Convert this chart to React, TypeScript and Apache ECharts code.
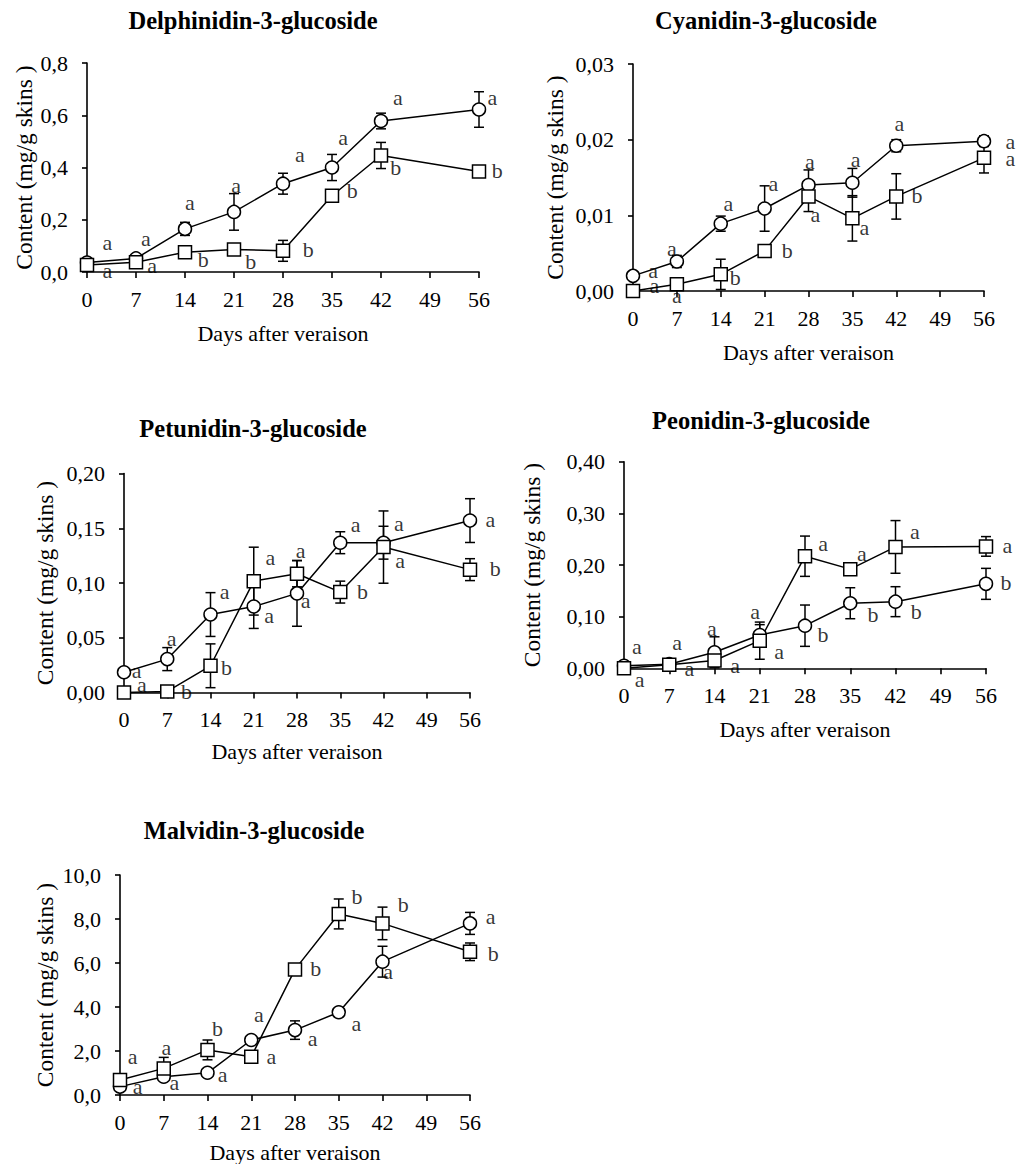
import React, { useEffect, useRef } from "react";
import * as echarts from "echarts";

const FONT = "'Liberation Serif', 'Times New Roman', serif";

// ---------- shared ----------
const days = [0, 7, 14, 21, 28, 35, 42, 56];
const xAxisName = "Days after veraison";
const yAxisName = "Content (mg/g skins )";

// ---------- titles & y axes ----------
const titles = [
  "Delphinidin-3-glucoside",
  "Cyanidin-3-glucoside",
  "Petunidin-3-glucoside",
  "Peonidin-3-glucoside",
  "Malvidin-3-glucoside",
];
const yMax = [0.8, 0.03, 0.2, 0.4, 10];
const yInterval = [0.2, 0.01, 0.05, 0.1, 2];
const yDecimals = [1, 2, 2, 2, 1];

// ---------- Delphinidin ----------
const delCircle = [0.036, 0.052, 0.165, 0.23, 0.338, 0.4, 0.578, 0.622];
const delCircleErr = [0.008, 0.006, 0.025, 0.07, 0.04, 0.05, 0.03, 0.068];
const delSquare = [0.027, 0.037, 0.076, 0.086, 0.081, 0.292, 0.446, 0.385];
const delSquareErr = [0.005, 0.005, 0.006, 0.008, 0.04, 0.01, 0.05, 0.012];
const delCircleLetters = ["a", "a", "a", "a", "a", "a", "a", "a"];
const delCircleLetterAt = [[2.9, 0.107], [8.4, 0.119], [14.7, 0.257], [21.3, 0.322], [30.4, 0.441], [36.6, 0.506], [44.4, 0.659], [57.9, 0.659]];
const delSquareLetters = ["a", "a", "b", "b", "b", "b", "b", "b"];
const delSquareLetterAt = [[2.9, 0.0], [9.3, 0.019], [16.6, 0.042], [23.4, 0.034], [31.6, 0.077], [37.9, 0.303], [44.1, 0.391], [58.6, 0.379]];

// ---------- Cyanidin ----------
const cyaCircle = [0.002, 0.0039, 0.0089, 0.0109, 0.014, 0.0143, 0.0192, 0.0198];
const cyaCircleErr = [0.0002, 0.0008, 0.001, 0.003, 0.002, 0.0019, 0.0008, 0.0007];
const cyaSquare = [0.0, 0.0009, 0.0022, 0.0053, 0.0125, 0.0096, 0.0125, 0.0176];
const cyaSquareErr = [0.0001, 0.0008, 0.002, 0.0005, 0.002, 0.003, 0.003, 0.002];
const cyaCircleLetters = ["a", "a", "a", "a", "a", "a", "a", "a"];
const cyaCircleLetterAt = [[3.2, 0.0025], [6.2, 0.0054], [15.2, 0.0113], [22.4, 0.014], [28.2, 0.0169], [35.5, 0.0171], [42.5, 0.0219], [60.2, 0.0195]];
const cyaSquareLetters = ["a", "a", "b", "b", "a", "a", "b", "a"];
const cyaSquareLetterAt = [[3.4, 0.0005], [7.0, -0.0009], [16.3, 0.0015], [24.6, 0.0051], [29.1, 0.0098], [36.9, 0.0081], [45.3, 0.0124], [60.2, 0.0172]];

// ---------- Petunidin ----------
const petCircle = [0.0185, 0.0305, 0.0712, 0.0785, 0.0905, 0.1368, 0.1368, 0.157];
const petCircleErr = [0.002, 0.0105, 0.02, 0.02, 0.03, 0.01, 0.015, 0.02];
const petSquare = [0.0, 0.001, 0.0244, 0.1017, 0.1085, 0.0917, 0.1328, 0.1122];
const petSquareErr = [0.001, 0.001, 0.02, 0.031, 0.012, 0.01, 0.033, 0.01];
const petCircleLetters = ["a", "a", "a", "a", "a", "a", "a", "a"];
const petCircleLetterAt = [[2.05, 0.0186], [7.7, 0.0473], [16.3, 0.0907], [23.5, 0.0681], [29.4, 0.0824], [37.5, 0.1517], [44.5, 0.1527], [59.3, 0.1566]];
const petSquareLetters = ["a", "b", "b", "a", "a", "b", "a", "b"];
const petSquareLetterAt = [[2.9, 0.0055], [10.1, -0.0009], [16.6, 0.0214], [23.7, 0.1212], [28.6, 0.1282], [38.6, 0.0907], [44.7, 0.119], [60.1, 0.1114]];

// ---------- Peonidin ----------
const peoCircle = [0.005, 0.008, 0.031, 0.0645, 0.0825, 0.126, 0.129, 0.1635];
const peoCircleErr = [0.003, 0.003, 0.03, 0.02, 0.04, 0.03, 0.029, 0.03];
const peoSquare = [0.0, 0.007, 0.015, 0.0535, 0.217, 0.192, 0.235, 0.236];
const peoSquareErr = [0.002, 0.003, 0.005, 0.036, 0.039, 0.005, 0.051, 0.019];
const peoCircleLetters = ["a", "a", "a", "a", "b", "b", "b", "b"];
const peoCircleLetterAt = [[2.0, 0.0387], [8.2, 0.0464], [13.6, 0.0741], [20.3, 0.1064], [30.8, 0.0612], [38.5, 0.1012], [45.2, 0.1064], [59.1, 0.1626]];
const peoSquareLetters = ["a", "a", "a", "a", "a", "a", "a", "a"];
const peoSquareLetterAt = [[2.4, -0.0259], [10.1, -0.0033], [17.2, 0.0012], [24.0, 0.029], [30.8, 0.2373], [36.8, 0.2193], [45.0, 0.2613], [59.3, 0.2334]];

// ---------- Malvidin ----------
const malCircle = [0.38, 0.83, 1.01, 2.5, 2.95, 3.76, 6.06, 7.8];
const malCircleErr = [0.1, 0.1, 0.15, 0.15, 0.42, 0.1, 0.7, 0.5];
const malSquare = [0.68, 1.21, 2.05, 1.74, 5.71, 8.23, 7.8, 6.51];
const malSquareErr = [0.2, 0.5, 0.45, 0.15, 0.2, 0.68, 0.74, 0.4];
const malCircleLetters = ["a", "a", "a", "a", "a", "a", "a", "a"];
const malCircleLetterAt = [[2.8, 0.3], [8.7, 0.5], [16.4, 0.83], [22.2, 3.56], [30.8, 2.5], [37.8, 3.14], [42.9, 5.53], [59.3, 8.03]];
const malSquareLetters = ["a", "a", "b", "a", "b", "b", "b", "b"];
const malSquareLetterAt = [[2.0, 1.67], [7.4, 2.08], [15.6, 2.95], [24.2, 1.67], [31.3, 5.68], [37.9, 8.94], [45.3, 8.56], [59.7, 6.36]];

const panelData = [
  { c: delCircle, ce: delCircleErr, s: delSquare, se: delSquareErr, cl: delCircleLetters, cla: delCircleLetterAt, sl: delSquareLetters, sla: delSquareLetterAt },
  { c: cyaCircle, ce: cyaCircleErr, s: cyaSquare, se: cyaSquareErr, cl: cyaCircleLetters, cla: cyaCircleLetterAt, sl: cyaSquareLetters, sla: cyaSquareLetterAt },
  { c: petCircle, ce: petCircleErr, s: petSquare, se: petSquareErr, cl: petCircleLetters, cla: petCircleLetterAt, sl: petSquareLetters, sla: petSquareLetterAt },
  { c: peoCircle, ce: peoCircleErr, s: peoSquare, se: peoSquareErr, cl: peoCircleLetters, cla: peoCircleLetterAt, sl: peoSquareLetters, sla: peoSquareLetterAt },
  { c: malCircle, ce: malCircleErr, s: malSquare, se: malSquareErr, cl: malCircleLetters, cla: malCircleLetterAt, sl: malSquareLetters, sla: malSquareLetterAt },
];

// ---------- layout (pixels) ----------
const grids = [
  { left: 87, top: 63, width: 392, height: 209 },
  { left: 633, top: 64, width: 351, height: 227 },
  { left: 124, top: 473.5, width: 346, height: 219 },
  { left: 624, top: 461.7, width: 362, height: 206.6 },
  { left: 120, top: 875, width: 350, height: 220 },
];
const titlePos = [
  [253, 20],
  [766, 20],
  [253, 428],
  [761, 420],
  [254, 830],
];
const yNameGap = [51, 66, 67, 80, 63];
const xNameGap = [50, 50, 48, 50, 46];

const BLACK = "#000";

function errorSeries(idx: number, vals: number[], errs: number[]) {
  return {
    type: "custom",
    xAxisIndex: idx,
    yAxisIndex: idx,
    clip: false,
    z: 2,
    data: days.map((d, i) => [d, vals[i], errs[i]]),
    renderItem: (params: any, api: any) => {
      const x = api.value(0);
      const y = api.value(1);
      const e = api.value(2);
      const top = api.coord([x, y + e]);
      const bot = api.coord([x, y - e]);
      const hw = 5;
      const st = { stroke: BLACK, lineWidth: 1.5 };
      return {
        type: "group",
        children: [
          { type: "line", shape: { x1: top[0], y1: top[1], x2: bot[0], y2: bot[1] }, style: st },
          { type: "line", shape: { x1: top[0] - hw, y1: top[1], x2: top[0] + hw, y2: top[1] }, style: st },
          { type: "line", shape: { x1: bot[0] - hw, y1: bot[1], x2: bot[0] + hw, y2: bot[1] }, style: st },
        ],
      };
    },
  };
}

function lineSeries(idx: number, vals: number[], symbol: string) {
  return {
    type: "line",
    xAxisIndex: idx,
    yAxisIndex: idx,
    data: days.map((d, i) => [d, vals[i]]),
    symbol,
    symbolSize: 13,
    showSymbol: true,
    z: 3,
    lineStyle: { color: BLACK, width: 1.5 },
    itemStyle: { color: "#fff", borderColor: BLACK, borderWidth: 1.5 },
  };
}

function letterSeries(idx: number, letters: string[], at: number[][]) {
  return {
    type: "scatter",
    xAxisIndex: idx,
    yAxisIndex: idx,
    clip: false,
    symbolSize: 0,
    z: 5,
    data: letters.map((t, i) => ({ name: t, value: at[i] })),
    label: {
      show: true,
      position: "inside",
      formatter: "{b}",
      fontFamily: FONT,
      fontSize: 22,
      color: BLACK,
      offset: [0, -2],
    },
    emphasis: { disabled: true },
  };
}

function fmt(dec: number) {
  return (v: number) => v.toFixed(dec).replace(".", ",");
}

export default function App() {
  const ref = useRef<HTMLDivElement>(null);
  useEffect(() => {
    document.body.style.margin = "0";
    if (!ref.current) return;
    const chart = echarts.init(ref.current, null, { renderer: "svg" });
    const series: any[] = [];
    panelData.forEach((p, i) => {
      series.push(errorSeries(i, p.c, p.ce));
      series.push(errorSeries(i, p.s, p.se));
      series.push(lineSeries(i, p.c, "circle"));
      series.push(lineSeries(i, p.s, "rect"));
      series.push(letterSeries(i, p.cl, p.cla));
      series.push(letterSeries(i, p.sl, p.sla));
    });
    const option: any = {
      animation: false,
      backgroundColor: "#fff",
      textStyle: { fontFamily: FONT, color: BLACK },
      grid: grids.map((g) => ({ ...g, containLabel: false })),
      xAxis: grids.map((_, i) => ({
        type: "value",
        gridIndex: i,
        min: 0,
        max: 56,
        interval: 7,
        name: xAxisName,
        nameLocation: "middle",
        nameGap: xNameGap[i],
        nameTextStyle: { fontFamily: FONT, fontSize: 22, color: BLACK },
        axisLine: { show: true, onZero: false, lineStyle: { color: BLACK, width: 1.6 } },
        axisTick: { show: true, inside: false, length: 6, lineStyle: { color: BLACK, width: 1.6 } },
        axisLabel: { fontFamily: FONT, fontSize: 22, color: BLACK, margin: 16 },
        splitLine: { show: false },
      })),
      yAxis: grids.map((_, i) => ({
        type: "value",
        gridIndex: i,
        min: 0,
        max: yMax[i],
        interval: yInterval[i],
        name: yAxisName,
        nameLocation: "middle",
        nameRotate: 90,
        nameGap: yNameGap[i],
        nameTextStyle: { fontFamily: FONT, fontSize: 23.5, color: BLACK },
        axisLine: { show: true, onZero: false, lineStyle: { color: BLACK, width: 1.6 } },
        axisTick: { show: true, inside: false, length: 5, lineStyle: { color: BLACK, width: 1.6 } },
        axisLabel: { fontFamily: FONT, fontSize: 22, color: BLACK, margin: 19, formatter: fmt(yDecimals[i]) },
        splitLine: { show: false },
      })),
      graphic: titles.map((t, i) => ({
        type: "text",
        x: titlePos[i][0],
        y: titlePos[i][1],
        style: {
          text: t,
          font: `bold 24.5px ${FONT}`,
          fill: BLACK,
          align: "center",
          verticalAlign: "middle",
          textAlign: "center",
          textVerticalAlign: "middle",
        },
      })),
      series,
    };
    chart.setOption(option);
    return () => chart.dispose();
  }, []);
  return <div ref={ref} style={{ width: 1018, height: 1164 }} />;
}
